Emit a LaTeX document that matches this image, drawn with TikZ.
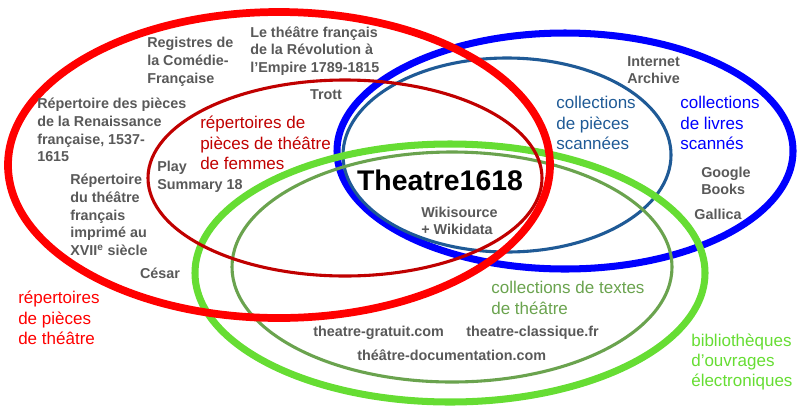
\documentclass[tikz,border=0pt]{standalone}
\usepackage{fontspec}
\setmainfont{Liberation Sans}

\definecolor{repred}{HTML}{FF0000}
\definecolor{femred}{HTML}{C00000}
\definecolor{scanblue}{HTML}{0000FF}
\definecolor{piecesblue}{HTML}{1F5A96}
\definecolor{biblgreen}{HTML}{66DD33}
\definecolor{textgreen}{HTML}{6AA34E}
\definecolor{labgrey}{HTML}{595959}

\begin{document}
\begin{tikzpicture}[x=0.025cm,y=-0.025cm,
    site/.style={text=labgrey,font=\bfseries\fontsize{10.2pt}{12.6pt}\selectfont,align=left,inner sep=0pt},
    setname/.style={font=\fontsize{12.1pt}{14.4pt}\selectfont,align=left,inner sep=0pt}]
    % Fix the bounding box
    \useasboundingbox (0,0) rectangle (800,410);

    % Draw the ellipses for the scanned books
    \draw[scanblue,line width=5pt] (565,151) ellipse [x radius=228, y radius=118];
    \draw[piecesblue,line width=2.2pt] (507,155) ellipse [x radius=164, y radius=97];

    % Draw the ellipses for the electronic libraries
    \draw[biblgreen,line width=5pt] (450,273) ellipse [x radius=255, y radius=129];
    \draw[textgreen,line width=2.2pt] (452,267) ellipse [x radius=220, y radius=115];

    % Draw the ellipses for the repertoires
    \draw[femred,line width=2.2pt] (345,178) ellipse [x radius=197, y radius=98];
    \draw[repred,line width=5.5pt] (279,165) ellipse [x radius=271, y radius=153];

    % Add labels for each set
    \node[setname,text=repred,anchor=west] (reppieces) at (18,318) {répertoires\\de pièces\\de théâtre};
    \node[setname,text=femred,anchor=west] (repfem) at (200,143) {répertoires de\\pièces de théâtre\\de femmes};
    \node[setname,text=piecesblue,anchor=west] (scanpieces) at (556,123) {collections\\de pièces\\scannées};
    \node[setname,text=scanblue,anchor=west] (scanlivres) at (680,123) {collections\\de livres\\scannés};
    \node[setname,text=textgreen,anchor=west] (textes) at (491,298) {collections de textes\\de théâtre};
    \node[setname,text=biblgreen,anchor=west] (biblio) at (691,362) {bibliothèques\\d’ouvrages\\électroniques};

    % Add the center
    \node[font=\bfseries\fontsize{20.2pt}{24pt}\selectfont,inner sep=0pt] (t1618) at (440,180) {Theatre1618};

    % Add elements to the sets
    \node[site,anchor=west] (registres) at (147,62) {Registres de\\la Comédie-\\Française};
    \node[site,anchor=west] (revolution) at (250,51) {Le théâtre français\\de la Révolution à\\l’Empire 1789-1815};
    \node[site] (trott) at (326,95) {Trott};
    \node[site,anchor=west] (renaissance) at (37,130) {Répertoire des pièces\\de la Renaissance\\française, 1537-\\1615};
    \node[site,anchor=west] (play) at (157,177) {Play\\Summary 18};
    \node[site,anchor=west] (xvii) at (70,215) {Répertoire\\du théâtre\\français\\imprimé au\\XVII\textsuperscript{e} siècle};
    \node[site] (cesar) at (160,273) {César};
    \node[site,anchor=west] (archive) at (627,70) {Internet\\Archive};
    \node[site,anchor=west] (google) at (701,181) {Google\\Books};
    \node[site] (gallica) at (718,214) {Gallica};
    \node[site,anchor=west] (wiki) at (421,221) {Wikisource\\+ Wikidata};
    \node[site,anchor=west] (gratuit) at (313,333) {theatre-gratuit.com};
    \node[site,anchor=west] (classique) at (466,333) {theatre-classique.fr};
    \node[site,anchor=west] (docu) at (357,355) {théâtre-documentation.com};
\end{tikzpicture}
\end{document}
